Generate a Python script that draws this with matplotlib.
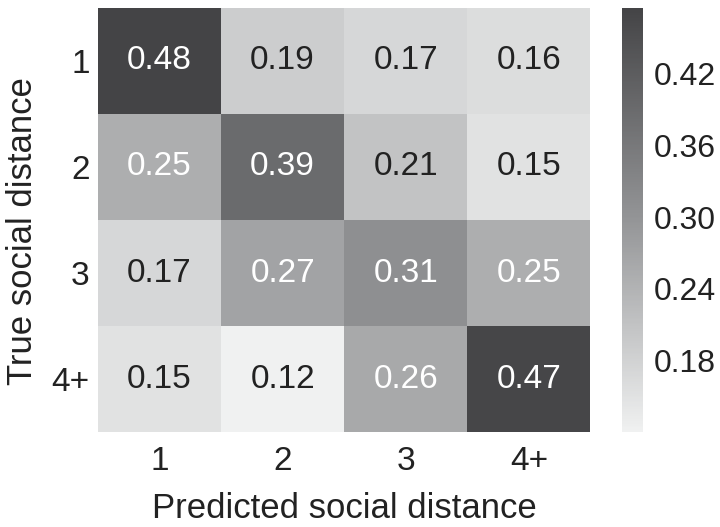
import matplotlib.pyplot as plt
import numpy as np
from matplotlib.colors import LinearSegmentedColormap

plt.rcParams["font.family"] = ["Liberation Sans", "DejaVu Sans"]

true_labels = ["1", "2", "3", "4+"]
pred_labels = ["1", "2", "3", "4+"]
confusion = [
    [0.48, 0.19, 0.17, 0.16],
    [0.25, 0.39, 0.21, 0.15],
    [0.17, 0.27, 0.31, 0.25],
    [0.15, 0.12, 0.26, 0.47],
]
cbar_ticks = [0.18, 0.24, 0.30, 0.36, 0.42]

data = np.array(confusion)
cmap = LinearSegmentedColormap.from_list(
    "grey", [(0.0, "#f0f1f1"), (0.5, "#949597"), (1.0, "#444446")])

fig = plt.figure(figsize=(7.2, 5.27), dpi=100)
ax = fig.add_axes([0.136, 0.18, 0.684, 0.805])
cax = fig.add_axes([0.864, 0.18, 0.029, 0.805])

mesh = ax.pcolormesh(data, cmap=cmap, vmin=0.12, vmax=0.475)
ax.set_xlim(0, 4)
ax.set_ylim(4, 0)
for i in range(4):
    for j in range(4):
        v = data[i, j]
        ax.text(j + 0.5, i + 0.5, f"{v:.2f}", ha="center", va="center",
                fontsize=24, color="white" if v > 0.24 else "#222222")

ax.set_xticks(np.arange(4) + 0.5, pred_labels, fontsize=24, color="#222222")
ax.set_yticks(np.arange(4) + 0.5, true_labels, fontsize=24, color="#222222")
ax.tick_params(axis="x", length=0, pad=10)
ax.tick_params(axis="y", length=0, pad=6)
for s in ax.spines.values():
    s.set_visible(False)
ax.set_xlabel("Predicted social distance", fontsize=25, color="#222222", labelpad=11)
ax.set_ylabel("True social distance", fontsize=25, color="#222222")
ax.yaxis.set_label_coords(-0.12, 0.475)

cb = fig.colorbar(mesh, cax=cax, ticks=cbar_ticks)
cb.ax.set_yticklabels([f"{t:.2f}" for t in cbar_ticks], fontsize=23, color="#222222")
cb.ax.tick_params(length=0, pad=8)
cb.outline.set_visible(False)

fig.savefig("out.png", dpi=100)
